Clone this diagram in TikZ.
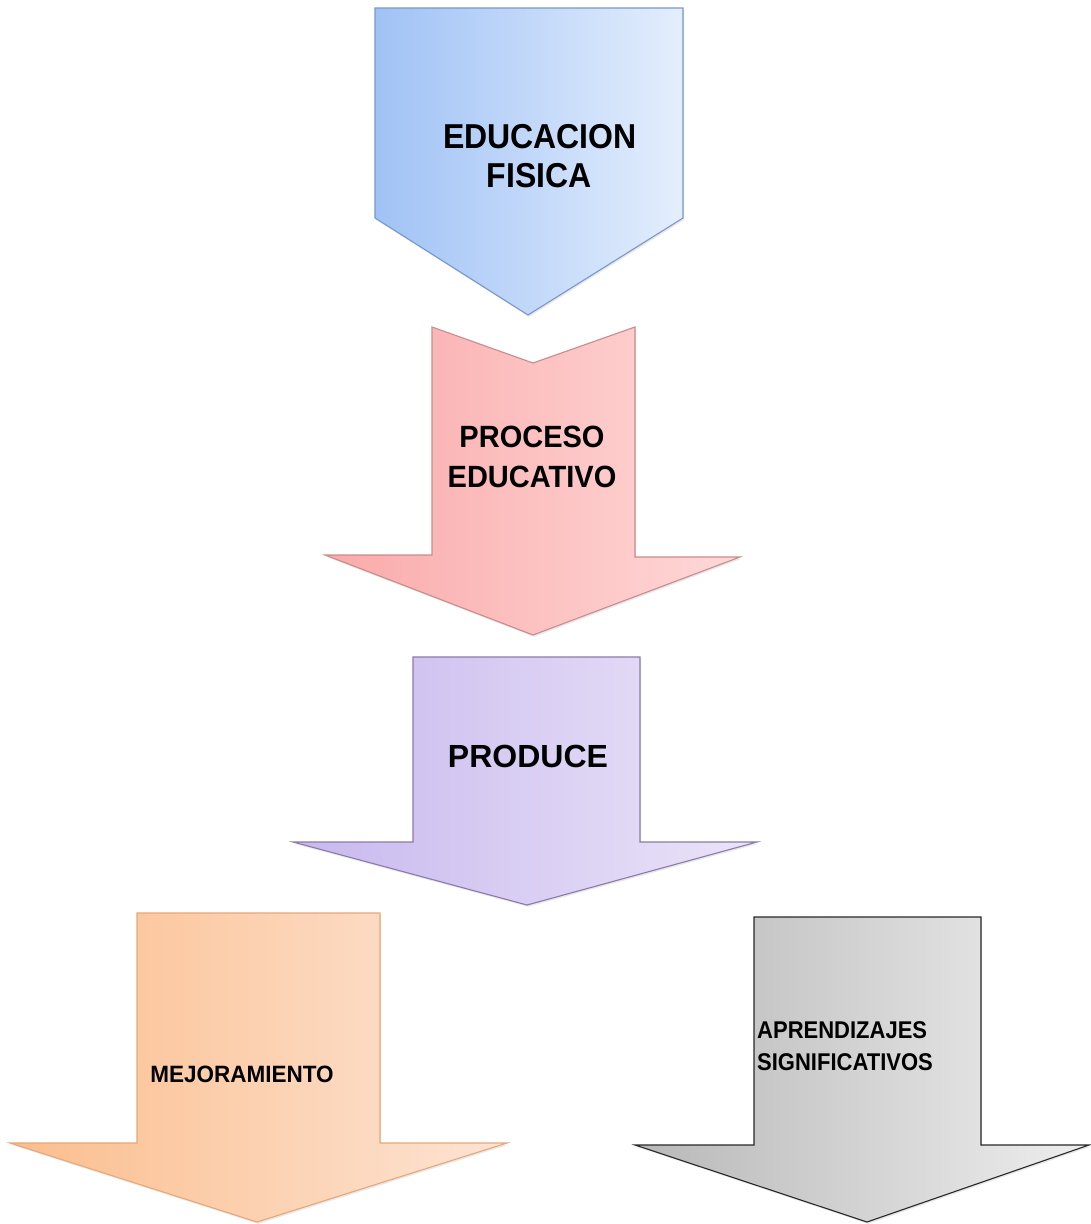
\documentclass[tikz,border=0pt]{standalone}
\usepackage{fontspec}
\setmainfont{Liberation Sans}
\usetikzlibrary{shadows}
\begin{document}
\begin{tikzpicture}[x=1pt,y=-1pt,
  lbl/.style={font=\bfseries, text=black, inner sep=0pt, align=center},
  blockarrow/.style={line width=1.1pt, line join=miter,
    drop shadow={opacity=0.18, shadow xshift=1.2pt, shadow yshift=-1.8pt}}]
\useasboundingbox (0,0) rectangle (1091,1224);
\fill[white] (0,0) rectangle (1091,1224);

% pentagon: EDUCACION FISICA
\path[blockarrow, draw={rgb,255:red,120;green,152;blue,204}, left color={rgb,255:red,160;green,194;blue,245}, right color={rgb,255:red,228;green,238;blue,253}]
  (375,8) -- (683,8) -- (683,218) -- (528,315) -- (375,218) -- cycle;
\node[lbl, font=\bfseries\fontsize{32}{40}\selectfont, anchor=base] (edu) at (540,148) {\scalebox{1}[1.08]{EDUCACION}};
\node[lbl, font=\bfseries\fontsize{32}{40}\selectfont, anchor=base] (fis) at (539,187) {\scalebox{1}[1.08]{FISICA}};

% notched arrow: PROCESO EDUCATIVO
\path[blockarrow, draw={rgb,255:red,200;green,140;blue,140}, left color={rgb,255:red,250;green,170;blue,170}, right color={rgb,255:red,255;green,216;blue,216}]
  (432,327) -- (533,363) -- (635,327) -- (635,557) -- (740,557) -- (533,635)
  -- (325,555) -- (432,555) -- cycle;
\node[lbl, font=\bfseries\fontsize{29}{40}\selectfont, anchor=base] (proc) at (532,447) {\scalebox{1}[1.06]{PROCESO}};
\node[lbl, font=\bfseries\fontsize{29}{40}\selectfont, anchor=base] (educ) at (532,487) {\scalebox{1}[1.06]{EDUCATIVO}};

% arrow: PRODUCE
\path[blockarrow, draw={rgb,255:red,140;green,122;blue,170}, left color={rgb,255:red,200;green,184;blue,238}, right color={rgb,255:red,234;green,228;blue,248}]
  (413,657) -- (640,657) -- (640,842) -- (757,842) -- (527,905) -- (293,842)
  -- (413,842) -- cycle;
\node[lbl, font=\bfseries\fontsize{32}{40}\selectfont, anchor=base] (prod) at (528,767) {PRODUCE};

% arrow: MEJORAMIENTO
\path[blockarrow, draw={rgb,255:red,230;green,168;blue,120}, left color={rgb,255:red,251;green,190;blue,142}, right color={rgb,255:red,253;green,228;blue,212}]
  (137,913) -- (380,913) -- (380,1143) -- (507,1143) -- (257,1222) -- (10,1143)
  -- (137,1143) -- cycle;
\node[lbl, font=\bfseries\fontsize{22.5}{30}\selectfont, anchor=base] (mej) at (242,1082) {\scalebox{1}[1.05]{MEJORAMIENTO}};

% arrow: APRENDIZAJES SIGNIFICATIVOS
\path[blockarrow, draw={rgb,255:red,40;green,40;blue,40}, left color={rgb,255:red,184;green,184;blue,184}, right color={rgb,255:red,238;green,238;blue,238}]
  (754,917) -- (981,917) -- (981,1145) -- (1089,1145) -- (867,1222) -- (635,1145)
  -- (754,1145) -- cycle;
\node[lbl, font=\bfseries\fontsize{22}{32}\selectfont, anchor=base west, align=left] (apr) at (757,1038) {\scalebox{1}[1.1]{APRENDIZAJES}};
\node[lbl, font=\bfseries\fontsize{22}{32}\selectfont, anchor=base west, align=left] (sig) at (757,1070) {\scalebox{1}[1.1]{SIGNIFICATIVOS}};
\end{tikzpicture}
\end{document}
